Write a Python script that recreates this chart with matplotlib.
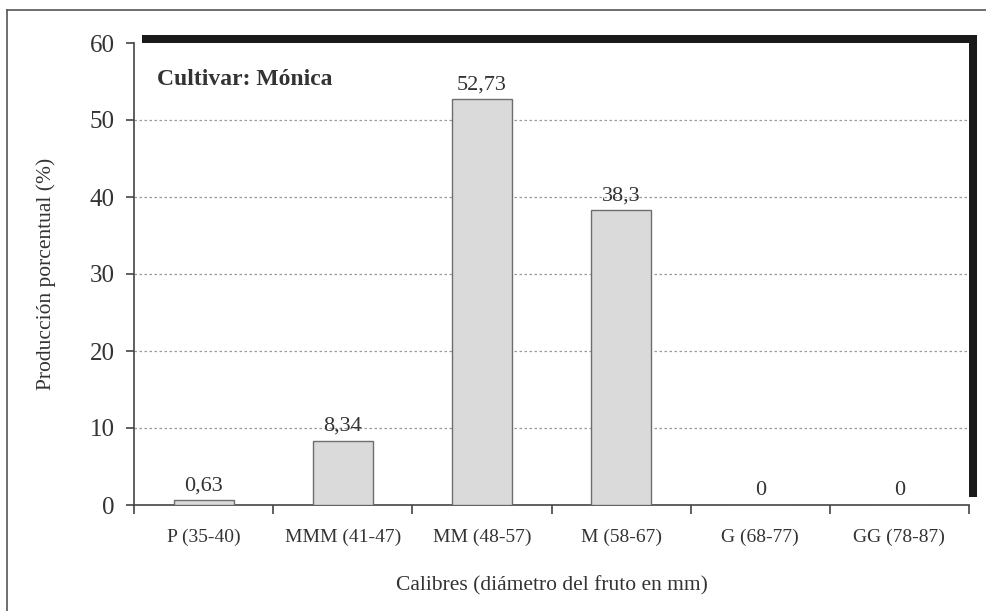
import matplotlib.pyplot as plt
from matplotlib.patches import Rectangle
from matplotlib.lines import Line2D

categories = ['P (35-40)', 'MMM (41-47)', 'MM (48-57)', 'M (58-67)', 'G (68-77)', 'GG (78-87)']
values = [0.63, 8.34, 52.73, 38.3, 0, 0]
value_labels = ['0,63', '8,34', '52,73', '38,3', '0', '0']
y_ticks = [0, 10, 20, 30, 40, 50, 60]

plt.rcParams['font.family'] = ['Liberation Serif', 'DejaVu Serif']

W, H = 986, 611
fig = plt.figure(figsize=(W / 100, H / 100), dpi=100)
fig.patch.set_facecolor('white')

# plot area in pixels (left, top, right, bottom)
L, T, R, B = 134, 43, 969, 505
ax = fig.add_axes([L / W, 1 - B / H, (R - L) / W, (B - T) / H])
ax.set_facecolor('white')

# outer frame (only left and top visible)
fig.add_artist(Line2D([7 / W, 7 / W], [0, 1 - 10 / H], transform=fig.transFigure,
                      color='#555555', lw=1.2))
fig.add_artist(Line2D([7 / W, 1], [1 - 10 / H, 1 - 10 / H], transform=fig.transFigure,
                      color='#555555', lw=1.2))

# shadow behind plot area
off = 8
shadow = Rectangle(((L + off) / W, 1 - (B - off) / H), (R - L) / W, (B - T) / H,
                   transform=fig.transFigure, facecolor='#1a1a1a', edgecolor='none', zorder=-1)
fig.add_artist(shadow)

x = range(len(categories))
ax.bar(x, values, width=0.43, color='#dadada', edgecolor='#6e6e6e', linewidth=1, zorder=3)

for xi, v, lab in zip(x, values, value_labels):
    ax.annotate(lab, (xi, v), xytext=(0, 3.5), textcoords='offset points',
                ha='center', va='bottom', fontsize=16, color='#333333', zorder=4)

ax.set_xlim(-0.5, len(categories) - 0.5)
ax.set_ylim(0, 60)
ax.set_yticks(y_ticks)
ax.set_yticklabels([str(t) for t in y_ticks], fontsize=18, color='#333333')
ax.set_xticks([i + 0.5 for i in range(-1, len(categories))])
ax.set_xticklabels([])
ax.set_xticks(list(x), minor=True)
ax.set_xticklabels(categories, minor=True, fontsize=14, color='#333333')
ax.tick_params(axis='x', which='minor', length=0, pad=17)
ax.tick_params(axis='x', which='major', length=6.5, width=1.2, color='#444444', direction='out')
ax.tick_params(axis='y', length=6, width=1.2, color='#444444', direction='out', pad=8)

for yv in y_ticks[1:-1]:
    ax.axhline(yv, color='#999999', lw=0.9, ls=(0, (2, 2)), zorder=1)

ax.spines['top'].set_visible(False)
ax.spines['right'].set_visible(False)
for s in ['left', 'bottom']:
    ax.spines[s].set_color('#444444')
    ax.spines[s].set_linewidth(1.2)

ax.text(0.0275, 0.92, 'Cultivar: Mónica', transform=ax.transAxes, fontsize=17,
        fontweight='bold', color='#333333', va='center', ha='left')

ax.set_xlabel('Calibres (diámetro del fruto en mm)', fontsize=15.5, color='#333333', labelpad=22)
ax.set_ylabel('Producción porcentual (%)', fontsize=15.5, color='#333333', labelpad=24)

fig.savefig('out.png', dpi=100, facecolor='white')
